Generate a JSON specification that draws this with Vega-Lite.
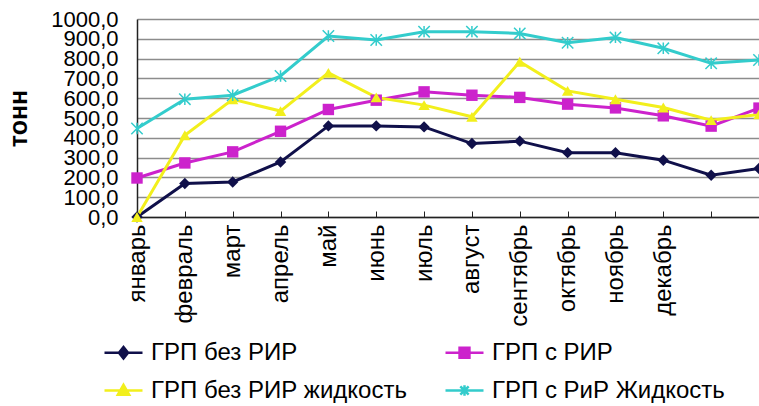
{
  "$schema": "https://vega.github.io/schema/vega-lite/v6.json",
  "width": 622,
  "height": 198,
  "autosize": {"type": "none"},
  "padding": {"left": 137, "top": 19, "right": 0, "bottom": 189},
  "background": "white",
  "config": {
    "view": {"stroke": null},
    "font": "Liberation Sans",
    "axis": {"labelFont": "Liberation Sans", "titleFont": "Liberation Sans", "labelColor": "#000", "titleColor": "#000"},
    "legend": {"labelFont": "Liberation Sans", "labelColor": "#000"}
  },
  "data": {
    "values": [
      {"month": "январь", "series": "ГРП без РИР", "value": 0},
      {"month": "февраль", "series": "ГРП без РИР", "value": 169},
      {"month": "март", "series": "ГРП без РИР", "value": 177},
      {"month": "апрель", "series": "ГРП без РИР", "value": 278},
      {"month": "май", "series": "ГРП без РИР", "value": 460},
      {"month": "июнь", "series": "ГРП без РИР", "value": 460},
      {"month": "июль", "series": "ГРП без РИР", "value": 455},
      {"month": "август", "series": "ГРП без РИР", "value": 371},
      {"month": "сентябрь", "series": "ГРП без РИР", "value": 383},
      {"month": "октябрь", "series": "ГРП без РИР", "value": 325},
      {"month": "ноябрь", "series": "ГРП без РИР", "value": 325},
      {"month": "декабрь", "series": "ГРП без РИР", "value": 287},
      {"month": "13", "series": "ГРП без РИР", "value": 211},
      {"month": "14", "series": "ГРП без РИР", "value": 245},
      {"month": "январь", "series": "ГРП с РИР", "value": 197},
      {"month": "февраль", "series": "ГРП с РИР", "value": 273},
      {"month": "март", "series": "ГРП с РИР", "value": 329},
      {"month": "апрель", "series": "ГРП с РИР", "value": 433},
      {"month": "май", "series": "ГРП с РИР", "value": 543},
      {"month": "июнь", "series": "ГРП с РИР", "value": 590},
      {"month": "июль", "series": "ГРП с РИР", "value": 632},
      {"month": "август", "series": "ГРП с РИР", "value": 615},
      {"month": "сентябрь", "series": "ГРП с РИР", "value": 604},
      {"month": "октябрь", "series": "ГРП с РИР", "value": 570},
      {"month": "ноябрь", "series": "ГРП с РИР", "value": 551},
      {"month": "декабрь", "series": "ГРП с РИР", "value": 511},
      {"month": "13", "series": "ГРП с РИР", "value": 459},
      {"month": "14", "series": "ГРП с РИР", "value": 550},
      {"month": "январь", "series": "ГРП без РИР жидкость", "value": 0},
      {"month": "февраль", "series": "ГРП без РИР жидкость", "value": 413},
      {"month": "март", "series": "ГРП без РИР жидкость", "value": 594},
      {"month": "апрель", "series": "ГРП без РИР жидкость", "value": 535},
      {"month": "май", "series": "ГРП без РИР жидкость", "value": 728},
      {"month": "июнь", "series": "ГРП без РИР жидкость", "value": 604},
      {"month": "июль", "series": "ГРП без РИР жидкость", "value": 565},
      {"month": "август", "series": "ГРП без РИР жидкость", "value": 506},
      {"month": "сентябрь", "series": "ГРП без РИР жидкость", "value": 784},
      {"month": "октябрь", "series": "ГРП без РИР жидкость", "value": 637},
      {"month": "ноябрь", "series": "ГРП без РИР жидкость", "value": 595},
      {"month": "декабрь", "series": "ГРП без РИР жидкость", "value": 553},
      {"month": "13", "series": "ГРП без РИР жидкость", "value": 489},
      {"month": "14", "series": "ГРП без РИР жидкость", "value": 518},
      {"month": "январь", "series": "ГРП с РиР Жидкость", "value": 447},
      {"month": "февраль", "series": "ГРП с РиР Жидкость", "value": 595},
      {"month": "март", "series": "ГРП с РиР Жидкость", "value": 615},
      {"month": "апрель", "series": "ГРП с РиР Жидкость", "value": 712},
      {"month": "май", "series": "ГРП с РиР Жидкость", "value": 914},
      {"month": "июнь", "series": "ГРП с РиР Жидкость", "value": 894},
      {"month": "июль", "series": "ГРП с РиР Жидкость", "value": 936},
      {"month": "август", "series": "ГРП с РиР Жидкость", "value": 936},
      {"month": "сентябрь", "series": "ГРП с РиР Жидкость", "value": 927},
      {"month": "октябрь", "series": "ГРП с РиР Жидкость", "value": 880},
      {"month": "ноябрь", "series": "ГРП с РиР Жидкость", "value": 907},
      {"month": "декабрь", "series": "ГРП с РиР Жидкость", "value": 852},
      {"month": "13", "series": "ГРП с РиР Жидкость", "value": 776},
      {"month": "14", "series": "ГРП с РиР Жидкость", "value": 793}
    ]
  },
  "encoding": {
    "x": {
      "field": "month",
      "type": "ordinal",
      "scale": {"type": "point", "padding": 0, "domain": ["январь", "февраль", "март", "апрель", "май", "июнь", "июль", "август", "сентябрь", "октябрь", "ноябрь", "декабрь", "13", "14"]},
      "axis": {
        "title": null,
        "labelAngle": -90,
        "labelFontSize": 24,
        "labelPadding": 13,
        "labelOverlap": false,
        "labelExpr": "length(datum.value) < 3 ? '' : datum.value",
        "domainColor": "#222",
        "domainWidth": 1.5,
        "tickColor": "#222",
        "tickSize": -6,
        "tickWidth": 1,
        "grid": false
      }
    },
    "y": {
      "field": "value",
      "type": "quantitative",
      "scale": {"domain": [0, 1000], "nice": false},
      "axis": {
        "title": "тонн",
        "titleFontSize": 25,
        "titleFontWeight": "bold",
        "titlePadding": 19,
        "values": [0, 100, 200, 300, 400, 500, 600, 700, 800, 900, 1000],
        "labelExpr": "replace(format(datum.value, '.1f'), '.', ',')",
        "labelFontSize": 22,
        "labelPadding": 19,
        "labelOverlap": false,
        "labelFlush": false,
        "labelBound": false,
        "tickSize": 0,
        "domainColor": "#222",
        "domainWidth": 1.5,
        "gridColor": "#8c8c8c",
        "gridWidth": 1.5
      }
    },
    "color": {
      "field": "series",
      "type": "nominal",
      "scale": {
        "domain": ["ГРП без РИР", "ГРП с РИР", "ГРП без РИР жидкость", "ГРП с РиР Жидкость"],
        "range": ["#10104a", "#cc22cc", "#f2ef1c", "#33cccc"]
      },
      "legend": {
        "title": null,
        "orient": "none",
        "direction": "horizontal",
        "legendX": -34,
        "legendY": 313,
        "columns": 2,
        "columnPadding": 33,
        "rowPadding": 5,
        "labelFontSize": 24,
        "labelOffset": 7,
        "symbolSize": 1444,
        "symbolStrokeWidth": 2.5,
        "labelLimit": 400,
        "encode": {
          "symbols": {
            "update": {
              "shape": {"signal": "datum.value === 'ГРП без РИР' ? 'M-1,0L1,0M0,-0.3L0.24,0L0,0.3L-0.24,0Z' : datum.value === 'ГРП с РИР' ? 'M-1,0L1,0M-0.26,-0.26L0.26,-0.26L0.26,0.26L-0.26,0.26Z' : datum.value === 'ГРП без РИР жидкость' ? 'M-1,0L1,0M0,-0.3L0.3,0.22L-0.3,0.22Z' : 'M-1,0L1,0M-0.22,-0.22L0.22,0.22M-0.22,0.22L0.22,-0.22M0,-0.28L0,0.28'"},
              "fill": {"signal": "scale('color', datum.value)"},
              "stroke": {"signal": "scale('color', datum.value)"},
              "strokeWidth": {"value": 2.5},
              "opacity": {"value": 1}
            }
          }
        }
      }
    }
  },
  "layer": [
    {
      "mark": {"type": "line", "strokeWidth": 3}
    },
    {
      "transform": [{"filter": "datum.series !== 'ГРП с РиР Жидкость'"}],
      "mark": {"type": "point", "filled": true, "opacity": 1, "size": 130},
      "encoding": {
        "shape": {
          "field": "series",
          "type": "nominal",
          "scale": {"domain": ["ГРП без РИР", "ГРП с РИР", "ГРП без РИР жидкость"], "range": ["diamond", "square", "triangle-up"]},
          "legend": null
        }
      }
    },
    {
      "transform": [{"filter": "datum.series === 'ГРП с РиР Жидкость'"}],
      "mark": {"type": "point", "filled": false, "opacity": 1, "size": 130, "strokeWidth": 1.5, "shape": "M-1,-1L1,1M-1,1L1,-1M0,-1L0,1"}
    }
  ]
}
